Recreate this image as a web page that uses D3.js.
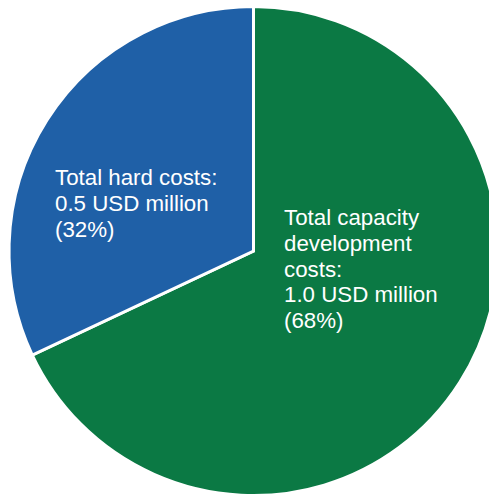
<!DOCTYPE html>
<html>
<head>
<meta charset="utf-8">
<script src="https://cdn.jsdelivr.net/npm/d3@7"></script>
<style>
  html, body { margin: 0; padding: 0; background: #ffffff; }
  svg { display: block; }
</style>
</head>
<body>
<svg id="chart" width="489" height="497"></svg>
<script>
// Cost breakdown (shares in percent)
const categories = ["Total capacity development costs", "Total hard costs"];
const shares = [68, 32];
const amounts = ["1.0 USD million", "0.5 USD million"];
const labelLines = [
  ["Total capacity", "development", "costs:", "1.0 USD million", "(68%)"],
  ["Total hard costs:", "0.5 USD million", "(32%)"]
];
const colors = ["#0b7944", "#1f60a7"];

const svg = d3.select("#chart");
const cx = 253.5, cy = 251, radius = 244.5;

const pie = d3.pie().sort(null).value(d => d.value);
const arcs = pie(categories.map((c, i) => ({ name: c, value: shares[i], i })));
const arc = d3.arc().innerRadius(0).outerRadius(radius);

const g = svg.append("g").attr("transform", `translate(${cx},${cy})`);

g.selectAll("path")
  .data(arcs)
  .join("path")
  .attr("d", arc)
  .attr("fill", d => colors[d.data.i])
  .attr("stroke", "#ffffff")
  .attr("stroke-width", 3)
  .attr("stroke-linejoin", "miter");

// Labels placed inside each slice
const labelPos = [
  { x: 284, y: 225 },
  { x: 55, y: 185 }
];
const lineH = 25.8;

arcs.forEach(a => {
  const i = a.data.i;
  const t = svg.append("text")
    .attr("x", labelPos[i].x)
    .attr("y", labelPos[i].y)
    .attr("fill", "#ffffff")
    .attr("font-family", "Liberation Sans, Arial, sans-serif")
    .attr("font-size", "22.3px");
  labelLines[i].forEach((line, k) => {
    t.append("tspan")
      .attr("x", labelPos[i].x)
      .attr("y", labelPos[i].y + k * lineH)
      .text(line);
  });
});
</script>
</body>
</html>
